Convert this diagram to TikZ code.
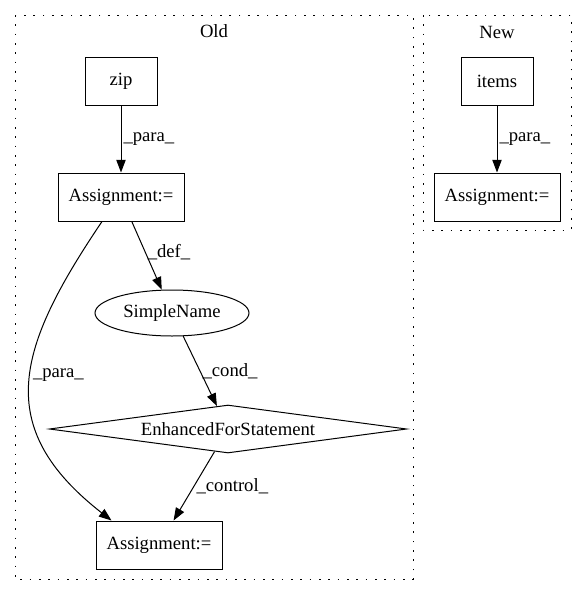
\documentclass[tikz,border=0pt]{standalone}
\usepackage{fontspec}
\setmainfont{Liberation Serif}
\usetikzlibrary{shapes.geometric,arrows.meta}
\begin{document}
\begin{tikzpicture}[x=0.75pt,y=0.75pt,line width=0.75pt,
  >={Triangle[length=9.5pt,width=7pt]},
  every node/.style={font=\fontsize{14}{16}\selectfont},
  box/.style={draw,minimum height=36pt,inner sep=0pt},
  lbl/.style={anchor=west,inner sep=1.5pt},
  cluster/.style={dash pattern=on 1.2pt off 5.8pt}]
\useasboundingbox (0,0) rectangle (587,-596);
% clusters
\draw[cluster] (15,-15) rectangle (413,-579);
\draw[cluster] (423,-15) rectangle (571,-230);
\node (old) at (214,-31) {Old};
\node (new) at (497,-32) {New};
% old
\node[box,minimum width=54pt] (zip) at (121,-81) {zip};
\node[box,minimum width=94.5pt] (asgA) at (121,-197) {Assignment:=};
\node[ellipse,draw,minimum width=115.5pt,minimum height=34.5pt,inner sep=0pt] (simple) at (172,-313) {SimpleName};
\node[diamond,draw,aspect=7,minimum width=268pt,minimum height=36pt,inner sep=0pt] (efs) at (228,-429) {EnhancedForStatement};
\node[box,minimum width=94.5pt] (asgB) at (159,-545) {Assignment:=};
% new
\node[box,minimum width=54pt] (items) at (497,-81) {items};
\node[box,minimum width=94.5pt] (asgN) at (497,-197) {Assignment:=};
% edges
\draw[->] (zip) -- node[lbl] {\_para\_} (asgA);
\draw[->] (asgA) -- node[lbl,pos=0.45] {\_def\_} (simple);
\draw[->] ([xshift=-14.25pt]asgA.south) to[out=236,in=142,looseness=1.3] node[lbl,pos=0.47] {\_para\_} ([xshift=12pt]asgB.north west);
\draw[->] (simple) -- node[lbl] {\_cond\_} (efs);
\draw[->] (efs) -- node[lbl] {\_control\_} (asgB);
\draw[->] (items) -- node[lbl] {\_para\_} (asgN);
\end{tikzpicture}
\end{document}
